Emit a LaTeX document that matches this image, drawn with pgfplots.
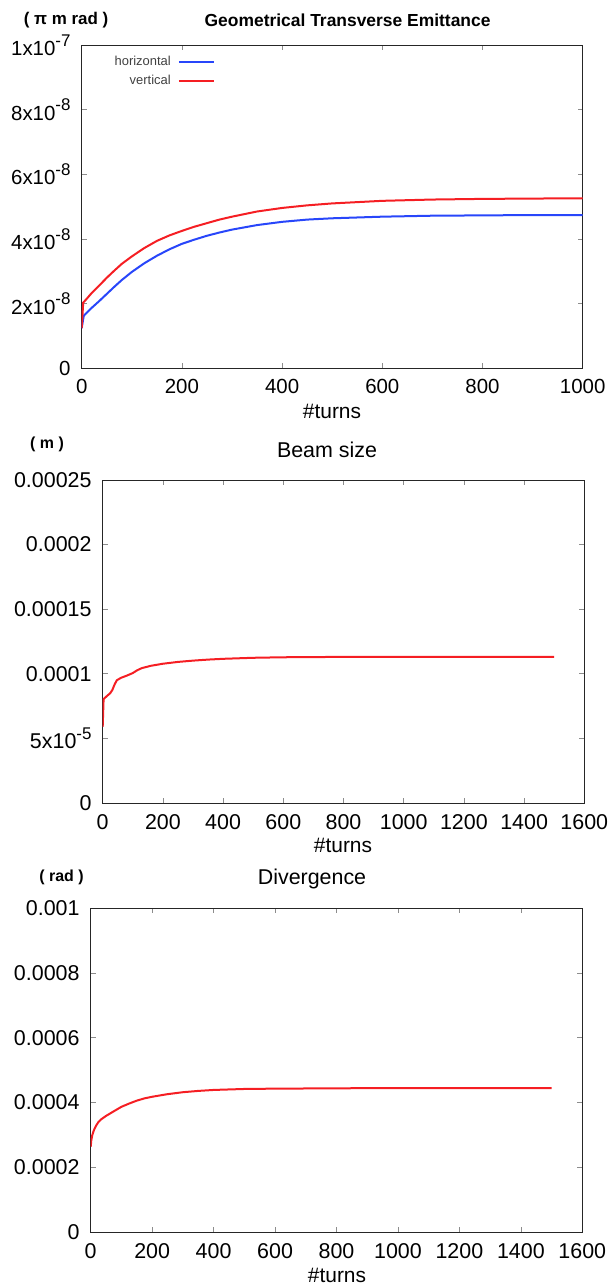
\documentclass[border=0pt]{standalone}
\usepackage{pgfplots}
\pgfplotsset{compat=1.18}
\usepackage{fontspec}
\setmainfont{Liberation Sans}
\newcommand{\sci}[2]{#1x10\raisebox{0.45em}{\fontsize{17}{17}\selectfont #2}}
\pgfplotsset{
  gp/.style={scale only axis, anchor=south west,
    axis line style={black!85, line width=0.9bp},
    tick style={black!45, line width=0.7bp},
    major tick length=5bp, tick align=inside, scaled ticks=false,
    ticklabel style={inner sep=0pt},
    xticklabel style={yshift=-11bp}, yticklabel style={xshift=-11bp}},
}
\definecolor{gpblue}{RGB}{40,70,250}
\definecolor{gpred}{RGB}{245,30,35}
\begin{document}
\begin{tikzpicture}
\path[use as bounding box] (0bp,0bp) rectangle (613bp,-1288bp);
% ---------------- panel 1
\begin{axis}[gp, at={(81.7bp,-368.3bp)}, width=501bp, height=323.3bp,
  xmin=0, xmax=1000, ymin=0, ymax=1e-7,
  xtick={0,200,400,600,800,1000}, xticklabels={0,200,400,600,800,1000},
  ytick={0,2e-8,4e-8,6e-8,8e-8,1e-7},
  yticklabels={0,\sci{2}{-8},\sci{4}{-8},\sci{6}{-8},\sci{8}{-8},\sci{1}{-7}},
  ticklabel style={font=\fontsize{20.5}{24}\selectfont},
  legend style={draw=none, fill=none, font=\fontsize{13}{15}\selectfont, text=black!75,
    at={(0.266,0.968)}, anchor=north east, legend cell align=right, inner sep=0pt,
    row sep=6bp, column sep=6bp, nodes={inner sep=1bp}},
  legend plot pos=right,
  legend image code/.code={\draw[#1] (0bp,0bp) -- (35bp,0bp);},
]
\addplot[gpblue, line width=2bp] coordinates {
(0,1.24e-8) (4,1.62e-8) (10,1.72e-8) (20,1.87e-8) (35,2.08e-8) (50,2.3e-8) (65,2.52e-8) (80,2.73e-8) (100,2.98e-8)
(125,3.25e-8) (150,3.48e-8) (175,3.68e-8) (200,3.85e-8) (225,3.98e-8) (250,4.1e-8) (275,4.2e-8) (300,4.29e-8) (350,4.43e-8)
(400,4.53e-8) (450,4.6e-8) (500,4.64e-8) (600,4.69e-8) (700,4.72e-8) (800,4.73e-8) (900,4.74e-8) (1000,4.74e-8)};
\addlegendentry{horizontal}
\addplot[gpred, line width=2bp] coordinates {
(0,1.24e-8) (3,2.03e-8) (10,2.15e-8) (20,2.33e-8) (35,2.56e-8) (50,2.8e-8) (65,3.02e-8) (80,3.23e-8) (100,3.46e-8)
(125,3.72e-8) (150,3.94e-8) (175,4.11e-8) (200,4.25e-8) (225,4.38e-8) (250,4.49e-8) (275,4.6e-8) (300,4.69e-8) (350,4.85e-8)
(400,4.96e-8) (450,5.04e-8) (500,5.1e-8) (600,5.18e-8) (700,5.22e-8) (800,5.24e-8) (900,5.25e-8) (1000,5.26e-8)};
\addlegendentry{vertical}
\end{axis}
\node[font=\bfseries\fontsize{17.5}{20}\selectfont] at (347.6bp,-20.5bp) {Geometrical Transverse Emittance};
\node[font=\bfseries\fontsize{17}{20}\selectfont] at (66bp,-20bp) {( π m rad )};
\node[font=\fontsize{21}{24}\selectfont] at (332bp,-411bp) {\#turns};
% ---------------- panel 2
\begin{axis}[gp, at={(102.7bp,-803bp)}, width=481.6bp, height=323bp,
  xmin=0, xmax=1600, ymin=0, ymax=0.00025,
  xtick={0,200,...,1600}, xticklabels={0,200,400,600,800,1000,1200,1400,1600},
  ytick={0,0.00005,0.0001,0.00015,0.0002,0.00025},
  yticklabels={0,\sci{5}{-5},0.0001,0.00015,0.0002,0.00025},
  ticklabel style={font=\fontsize{21.5}{25}\selectfont},
]
\addplot[gpred, line width=2bp] coordinates {
(0,5.9e-5) (3,8.05e-5) (15,8.3e-5) (25,8.5e-5) (32,8.75e-5) (40,9.2e-5) (47,9.5e-5) (60,9.68e-5) (80,9.86e-5)
(100,10.06e-5) (115,10.28e-5) (130,10.44e-5) (160,10.62e-5) (200,10.78e-5) (250,10.92e-5) (300,11.02e-5)
(350,11.1e-5) (400,11.16e-5) (500,11.24e-5) (600,11.28e-5) (800,11.31e-5) (1000,11.32e-5) (1200,11.32e-5) (1500,11.32e-5)};
\end{axis}
\node[font=\bfseries\fontsize{16}{19}\selectfont] at (47bp,-444bp) {( m )};
\node[font=\fontsize{21.5}{25}\selectfont] at (327bp,-450bp) {Beam size};
\node[font=\fontsize{21}{24}\selectfont] at (343bp,-845bp) {\#turns};
% ---------------- panel 3
\begin{axis}[gp, at={(90.7bp,-1232.3bp)}, width=491.6bp, height=324.3bp,
  xmin=0, xmax=1600, ymin=0, ymax=0.001,
  xtick={0,200,...,1600}, xticklabels={0,200,400,600,800,1000,1200,1400,1600},
  ytick={0,0.0002,0.0004,0.0006,0.0008,0.001},
  yticklabels={0,0.0002,0.0004,0.0006,0.0008,0.001},
  ticklabel style={font=\fontsize{21.5}{25}\selectfont},
]
\addplot[gpred, line width=2bp] coordinates {
(0,2.64e-4) (2,2.84e-4) (5,2.99e-4) (10,3.14e-4) (17,3.28e-4) (25,3.4e-4) (35,3.49e-4) (50,3.59e-4)
(73,3.72e-4) (100,3.87e-4) (125,3.97e-4) (150,4.06e-4) (175,4.13e-4) (200,4.18e-4) (250,4.26e-4)
(300,4.32e-4) (350,4.36e-4) (400,4.39e-4) (500,4.42e-4) (600,4.43e-4) (800,4.44e-4)
(1000,4.45e-4) (1200,4.45e-4) (1500,4.45e-4)};
\end{axis}
\node[font=\bfseries\fontsize{16}{19}\selectfont] at (61.5bp,-877bp) {( rad )};
\node[font=\fontsize{21.5}{25}\selectfont] at (312bp,-879bp) {Divergence};
\node[font=\fontsize{21}{24}\selectfont] at (337bp,-1275bp) {\#turns};
\end{tikzpicture}
\end{document}
